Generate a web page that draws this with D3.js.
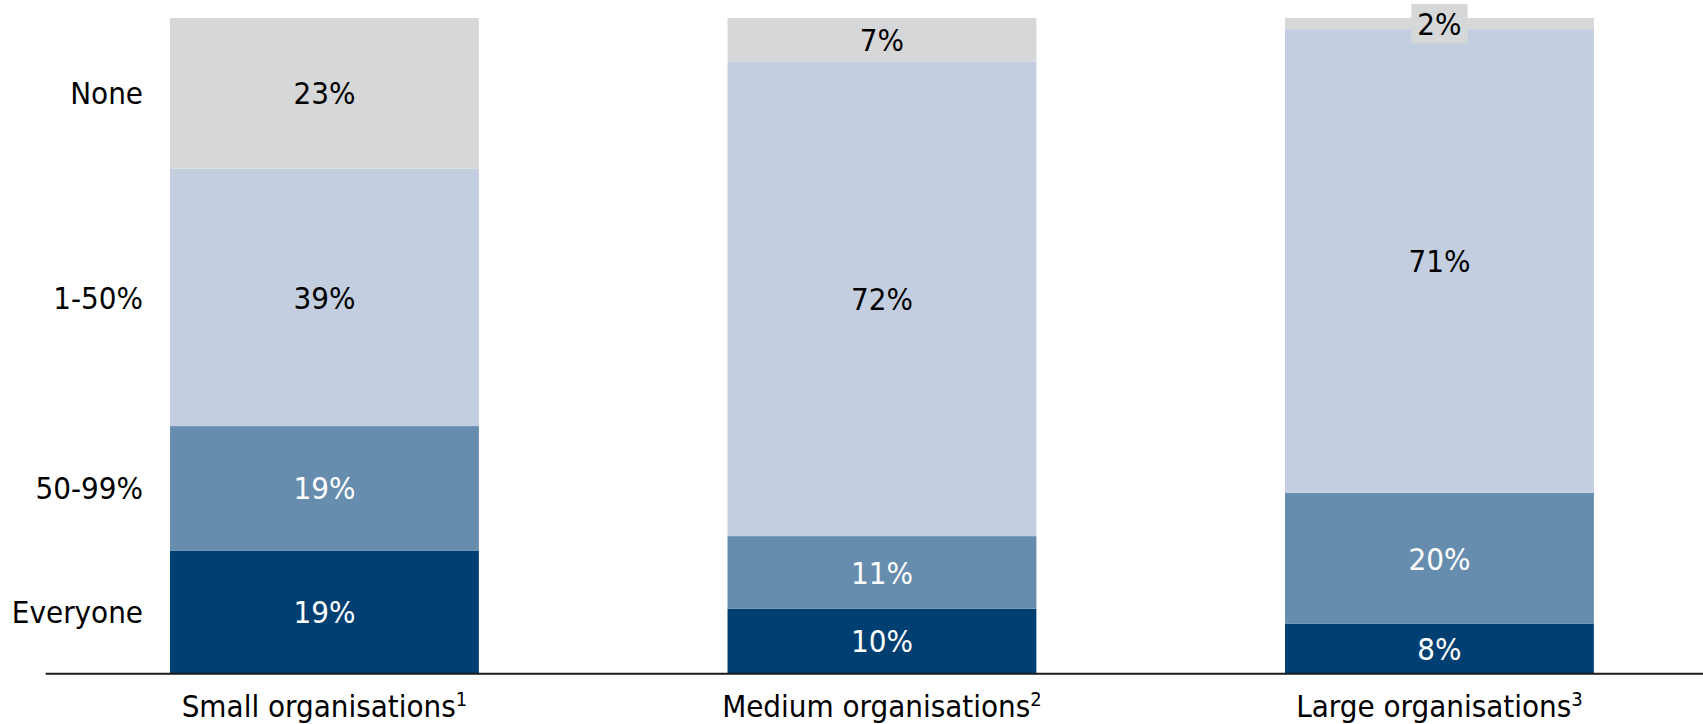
<!DOCTYPE html>
<html>
<head>
<meta charset="utf-8">
<script src="https://cdn.jsdelivr.net/npm/d3@7"></script>
<style>
  html, body { margin: 0; padding: 0; background: #fff; }
  svg { display: block; }
  text { font-family: "DejaVu Sans Condensed", "DejaVu Sans", sans-serif; font-stretch: condensed; }
</style>
</head>
<body>
<svg id="chart" width="1703" height="724"></svg>
<script>
// ---- data ----
const categories = ["Small organisations", "Medium organisations", "Large organisations"];
const footnotes = ["1", "2", "3"];
const seriesNames = ["Everyone", "50-99%", "1-50%", "None"];
const everyone = [18.7, 9.8, 7.5];
const pct50to99 = [19.0, 11.1, 20.0];
const pct1to50 = [39.3, 72.4, 70.8];
const none = [23.0, 6.7, 1.7];
const seriesColors = ["#003f72", "#678dae", "#c3cee0", "#d6d7d9"];
const labelColors = ["#ffffff", "#ffffff", "#000000", "#000000"];

const table = categories.map((c, i) => ({
  category: c,
  "Everyone": everyone[i],
  "50-99%": pct50to99[i],
  "1-50%": pct1to50[i],
  "None": none[i]
}));

const svg = d3.select("#chart");
const W = 1703, H = 724;

const x = d3.scaleBand()
  .domain(categories)
  .range([45.7, 1718.2])
  .paddingInner(0.446)
  .paddingOuter(0.223);

const y = d3.scaleLinear().domain([0, 100]).range([673, 18]);

const stacked = d3.stack().keys(seriesNames)(table);

const layers = svg.append("g").selectAll("g")
  .data(stacked)
  .join("g")
  .attr("fill", (d, i) => seriesColors[i]);

layers.selectAll("rect")
  .data(d => d.map(v => ({ v, key: d.key })))
  .join("rect")
  .attr("x", d => x(d.v.data.category))
  .attr("width", x.bandwidth())
  .attr("y", d => y(d.v[1]))
  .attr("height", d => y(d.v[0]) - y(d.v[1]));

// value labels
const fontSize = 31;
stacked.forEach((layer, si) => {
  layer.forEach(v => {
    const cx = x(v.data.category) + x.bandwidth() / 2;
    const cy = (y(v[0]) + y(v[1])) / 2;
    const segH = y(v[0]) - y(v[1]);
    const g = svg.append("g");
    const t = g.append("text")
      .attr("x", cx)
      .attr("y", cy)
      .attr("dy", "0.36em")
      .attr("text-anchor", "middle")
      .attr("font-size", fontSize)
      .attr("fill", labelColors[si])
      .text(Math.round(v[1] - v[0]) + "%");
    if (segH < 30) {
      const bb = t.node().getBBox();
      g.insert("rect", "text")
        .attr("x", bb.x - 6)
        .attr("width", bb.width + 12)
        .attr("y", cy - 19.5)
        .attr("height", 39)
        .attr("fill", seriesColors[si]);
    }
  });
});

// y-axis (row) labels aligned to first bar's segments
stacked.forEach((layer, si) => {
  const v = layer[0];
  svg.append("text")
    .attr("x", 143)
    .attr("y", (y(v[0]) + y(v[1])) / 2)
    .attr("dy", "0.36em")
    .attr("text-anchor", "end")
    .attr("font-size", fontSize)
    .attr("fill", "#000")
    .text(layer.key);
});

// baseline axis
svg.append("line")
  .attr("x1", x.range()[0])
  .attr("x2", W)
  .attr("y1", y(0) + 0.8)
  .attr("y2", y(0) + 0.8)
  .attr("stroke", "#1a1a1a")
  .attr("stroke-width", 2);

// category labels with superscripts
categories.forEach((c, i) => {
  const t = svg.append("text")
    .attr("x", x(c) + x.bandwidth() / 2)
    .attr("y", 717)
    .attr("text-anchor", "middle")
    .attr("font-size", fontSize)
    .attr("fill", "#000");
  t.append("tspan").text(c);
  t.append("tspan")
    .attr("font-size", 20)
    .attr("dy", -11)
    .text(footnotes[i]);
});
</script>
</body>
</html>
